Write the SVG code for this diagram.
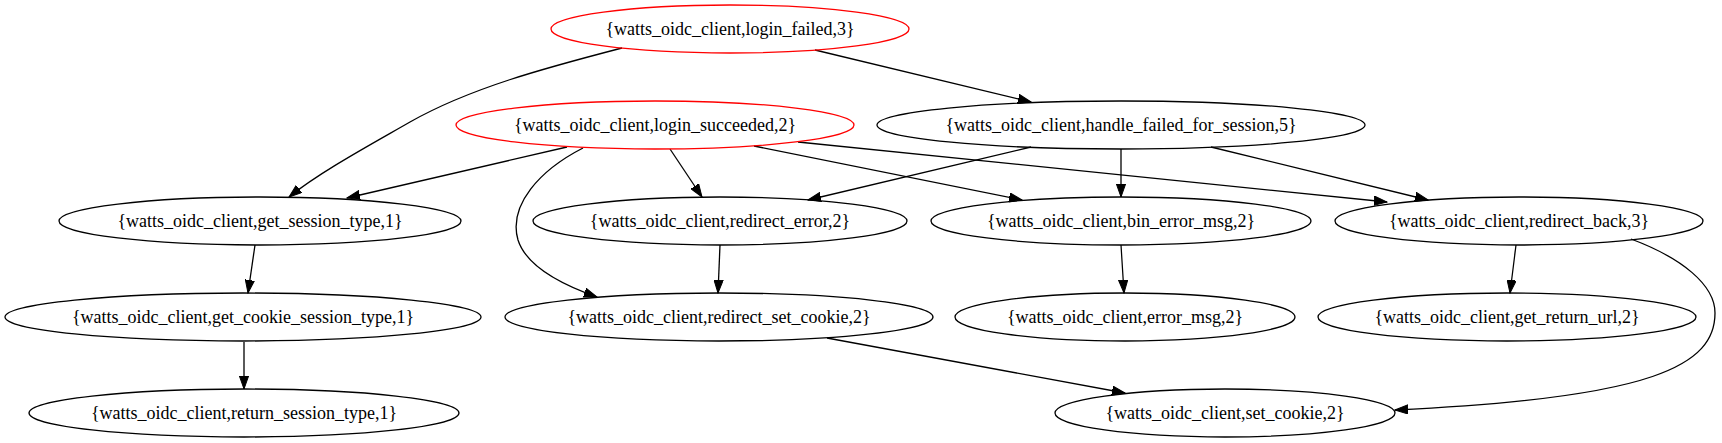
<svg xmlns="http://www.w3.org/2000/svg" width="1722" height="443" viewBox="0 0 1722 443">
<style>
.n ellipse{fill:none;stroke:#000;stroke-width:1.3}
.n.r ellipse{stroke:#ff0000}
.n text{font-family:"Liberation Serif","Times New Roman",serif;font-size:18px;text-anchor:middle;fill:#000}
.e path{fill:none;stroke:#000;stroke-width:1.3;marker-end:url(#ah)}
</style>
<defs>
<marker id="ah" markerWidth="14" markerHeight="10" refX="13" refY="5" orient="auto" markerUnits="userSpaceOnUse">
<path d="M0,0.4 L13,5 L0,9.6 z" fill="#000" stroke="#000" stroke-width="1"/>
</marker>
</defs>
<rect width="1722" height="443" fill="#fff"/>
<g id="connectors" class="e">
<path d="M622,48 C545,68 470,88 410,122 C370,145 320,172 289,197"/>
<path d="M815,50 L1031,102"/>
<path d="M567,147 L347,198"/>
<path d="M583,148 C540,170 508,205 518,240 C526,265 560,284 597,297"/>
<path d="M670,149 L702,197"/>
<path d="M754,146 L1022,200"/>
<path d="M798,142 L1387,202"/>
<path d="M1031,147 L808,200"/>
<path d="M1121,149 L1121,197"/>
<path d="M1211,147 L1428,200"/>
<path d="M255,245 L248,293"/>
<path d="M720,245 L718,293"/>
<path d="M1121,245 L1124,293"/>
<path d="M1516,245 L1510,293"/>
<path d="M1631,239 C1682,258 1715,285 1715,313 C1715,365 1655,398 1395,410"/>
<path d="M827,338 L1125,393"/>
<path d="M244,342 L244,389"/>
</g>
<g id="login_failed" class="n r"><ellipse cx="730" cy="29" rx="179" ry="24"/><text x="730" y="35">{watts_oidc_client,login_failed,3}</text></g>
<g id="login_succeeded" class="n r"><ellipse cx="655" cy="125" rx="199" ry="24"/><text x="655" y="131">{watts_oidc_client,login_succeeded,2}</text></g>
<g id="handle_failed_for_session" class="n"><ellipse cx="1121" cy="125" rx="244" ry="24"/><text x="1121" y="131">{watts_oidc_client,handle_failed_for_session,5}</text></g>
<g id="get_session_type" class="n"><ellipse cx="260" cy="221" rx="201" ry="24"/><text x="260" y="227">{watts_oidc_client,get_session_type,1}</text></g>
<g id="redirect_error" class="n"><ellipse cx="720" cy="221" rx="187" ry="24"/><text x="720" y="227">{watts_oidc_client,redirect_error,2}</text></g>
<g id="bin_error_msg" class="n"><ellipse cx="1121" cy="221" rx="190" ry="24"/><text x="1121" y="227">{watts_oidc_client,bin_error_msg,2}</text></g>
<g id="redirect_back" class="n"><ellipse cx="1519" cy="221" rx="184" ry="24"/><text x="1519" y="227">{watts_oidc_client,redirect_back,3}</text></g>
<g id="get_cookie_session_type" class="n"><ellipse cx="243" cy="317" rx="238" ry="24"/><text x="243" y="323">{watts_oidc_client,get_cookie_session_type,1}</text></g>
<g id="redirect_set_cookie" class="n"><ellipse cx="719" cy="317" rx="214" ry="24"/><text x="719" y="323">{watts_oidc_client,redirect_set_cookie,2}</text></g>
<g id="error_msg" class="n"><ellipse cx="1125" cy="317" rx="170" ry="24"/><text x="1125" y="323">{watts_oidc_client,error_msg,2}</text></g>
<g id="get_return_url" class="n"><ellipse cx="1507" cy="317" rx="189" ry="24"/><text x="1507" y="323">{watts_oidc_client,get_return_url,2}</text></g>
<g id="return_session_type" class="n"><ellipse cx="244" cy="413" rx="215" ry="24"/><text x="244" y="419">{watts_oidc_client,return_session_type,1}</text></g>
<g id="set_cookie" class="n"><ellipse cx="1225" cy="413" rx="170" ry="24"/><text x="1225" y="419">{watts_oidc_client,set_cookie,2}</text></g>
</svg>
